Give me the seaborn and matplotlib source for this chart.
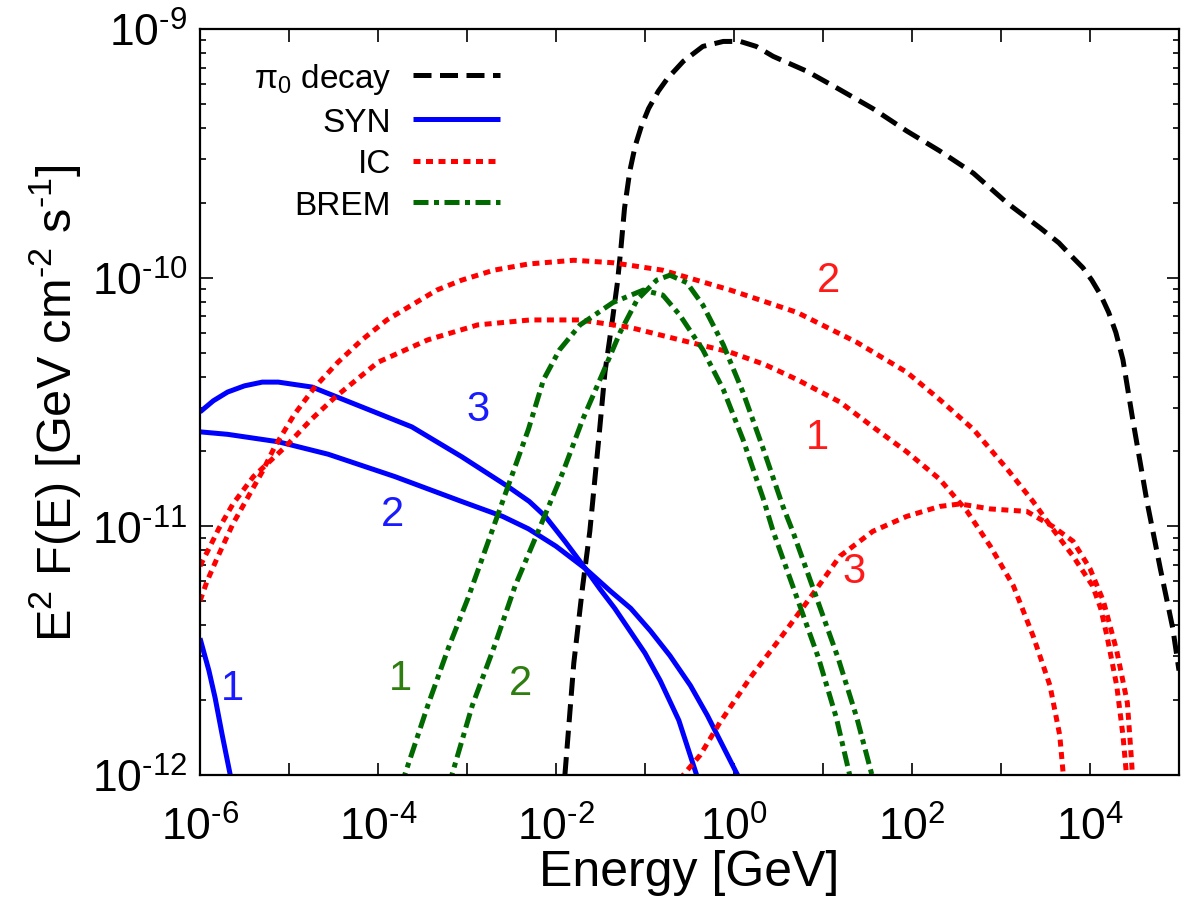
import numpy as np
import matplotlib
matplotlib.use("Agg")
import matplotlib.pyplot as plt
import seaborn as sns
from matplotlib.ticker import FixedLocator, FuncFormatter, LogLocator, NullFormatter, NullLocator

# ---------------- data (log10 E [GeV], log10 E^2F [GeV cm^-2 s^-1]) ----------------
pi0_logE = [-1.90, -1.80, -1.70, -1.62, -1.52, -1.45, -1.37, -1.31, -1.27, -1.23, -1.17, -1.11, -1.04, -0.96,
            -0.85, -0.75, -0.57, -0.35, -0.12, 0.07, 0.25, 0.44, 0.82, 1.17, 1.56, 1.94, 2.31, 2.69, 3.07,
            3.44, 3.65, 3.81, 3.92, 4.02, 4.12, 4.21, 4.29, 4.37, 4.48, 4.64, 4.79, 4.93, 5.00]
pi0_logF = [-12.0, -11.55, -11.24, -11.02, -10.65, -10.38, -10.18, -10.02, -9.88, -9.72, -9.57, -9.47, -9.39, -9.32,
            -9.25, -9.20, -9.13, -9.07, -9.05, -9.05, -9.07, -9.11, -9.17, -9.24, -9.32, -9.41, -9.49, -9.58, -9.70,
            -9.80, -9.86, -9.92, -9.96, -10.01, -10.07, -10.14, -10.22, -10.33, -10.57, -10.90, -11.17, -11.41, -11.58]

syn1_logE = [-6.00, -5.90, -5.83, -5.75, -5.66, -5.64]
syn1_logF = [-11.45, -11.58, -11.69, -11.84, -12.00, -12.05]

syn2_logE = [-6.00, -5.69, -5.12, -4.56, -3.81, -3.06, -2.60, -2.31, -2.00, -1.67, -1.39, -1.16, -0.94, -0.72,
             -0.49, -0.30, -0.13, 0.04, 0.07]
syn2_logF = [-10.62, -10.63, -10.66, -10.71, -10.80, -10.90, -10.96, -11.01, -11.08, -11.17, -11.26, -11.33, -11.42, -11.52,
             -11.64, -11.76, -11.88, -12.00, -12.03]

syn3_logE = [-6.00, -5.85, -5.69, -5.50, -5.30, -5.12, -4.74, -4.18, -3.62, -3.06, -2.54, -2.30, -2.12, -1.90,
             -1.67, -1.51, -1.34, -1.17, -1.00, -0.83, -0.62, -0.42, -0.39]
syn3_logF = [-10.54, -10.495, -10.46, -10.435, -10.42, -10.42, -10.44, -10.52, -10.60, -10.72, -10.84, -10.90, -10.96, -11.06,
             -11.17, -11.25, -11.33, -11.42, -11.51, -11.62, -11.78, -12.00, -12.03]

ic1_logE = [-6.00, -5.90, -5.79, -5.63, -5.40, -5.04, -4.75, -4.48, -4.00, -3.44, -2.88, -2.29, -1.73, -1.17,
            -0.61, -0.04, 0.35, 0.71, 1.19, 1.56, 1.94, 2.31, 2.62, 2.88, 3.14, 3.36, 3.55, 3.66, 3.70, 3.71]
ic1_logF = [-11.16, -11.09, -11.01, -10.91, -10.80, -10.68, -10.57, -10.48, -10.34, -10.25, -10.19, -10.17, -10.17, -10.20,
            -10.25, -10.30, -10.35, -10.41, -10.50, -10.60, -10.70, -10.81, -10.94, -11.08, -11.24, -11.44, -11.64, -11.84, -12.00, -12.04]

ic2_logE = [-6.00, -5.92, -5.81, -5.63, -5.30, -5.16, -4.94, -4.71, -4.45, -4.18, -3.90, -3.62, -3.34, -3.06, -2.70,
            -2.31, -1.80, -1.36, -0.80, -0.04, 0.71, 1.38, 1.94, 2.31, 2.69, 3.07, 3.36, 3.58, 3.81, 4.03, 4.12,
            4.19, 4.30, 4.37, 4.41, 4.42]
ic2_logF = [-11.30, -11.22, -11.13, -10.99, -10.78, -10.68, -10.55, -10.44, -10.34, -10.25, -10.17, -10.11, -10.05, -10.01, -9.97,
            -9.945, -9.93, -9.94, -9.97, -10.05, -10.14, -10.26, -10.38, -10.49, -10.61, -10.77, -10.90, -11.01, -11.12, -11.24, -11.33,
            -11.44, -11.64, -11.84, -12.00, -12.04]

ic3_logE = [-0.60, -0.57, -0.38, -0.16, 0.18, 0.52, 0.85, 1.19, 1.56, 1.94, 2.31, 2.54, 2.88, 3.29, 3.58,
            3.81, 4.00, 4.15, 4.30, 4.42, 4.47, 4.48]
ic3_logF = [-12.02, -12.00, -11.92, -11.79, -11.61, -11.45, -11.29, -11.12, -11.02, -10.96, -10.92, -10.91, -10.93, -10.94, -11.00,
            -11.06, -11.17, -11.30, -11.50, -11.71, -11.96, -12.03]

brem1_logE = [-3.72, -3.70, -3.44, -3.21, -2.99, -2.76, -2.54, -2.31, -2.14, -1.96, -1.73, -1.36, -1.02, -0.80,
              -0.61, -0.35, -0.12, 0.10, 0.33, 0.44, 0.70, 0.95, 1.15, 1.30, 1.31]
brem1_logF = [-12.05, -12.00, -11.72, -11.49, -11.29, -11.06, -10.84, -10.61, -10.41, -10.29, -10.19, -10.10, -10.05, -10.07,
              -10.15, -10.29, -10.45, -10.65, -10.89, -11.02, -11.28, -11.53, -11.77, -12.00, -12.03]

brem2_logE = [-3.19, -3.17, -2.94, -2.69, -2.46, -2.20, -1.92, -1.70, -1.47, -1.28, -1.09, -0.87, -0.72, -0.53,
              -0.35, -0.12, 0.10, 0.33, 0.55, 0.66, 0.92, 1.17, 1.38, 1.55, 1.56]
brem2_logF = [-12.05, -12.00, -11.72, -11.48, -11.24, -11.02, -10.78, -10.57, -10.38, -10.22, -10.09, -10.01, -9.99, -10.02,
              -10.11, -10.27, -10.46, -10.69, -10.92, -11.02, -11.28, -11.53, -11.77, -12.00, -12.03]

legend_labels = [r"π$_0$ decay", "SYN", "IC", "BREM"]
xtick_exponents = [-6, -4, -2, 0, 2, 4]
ytick_exponents = [-12, -11, -10, -9]

# curve number labels: (text, log10 E, log10 F, colour)
curve_labels = [
    ("1", -5.64, -11.65, "#1a1aff"), ("2", -3.84, -10.95, "#1a1aff"), ("3", -2.88, -10.53, "#1a1aff"),
    ("2", 1.06, -10.01, "#ff1a1a"), ("1", 0.94, -10.64, "#ff1a1a"), ("3", 1.35, -11.18, "#ff1a1a"),
    ("1", -3.75, -11.61, "#2e7d10"), ("2", -2.40, -11.63, "#2e7d10"),
]

# ---------------- style ----------------
sns.set_style("ticks")
plt.rcParams['font.family'] = ['Liberation Sans', 'DejaVu Sans']
plt.rcParams['mathtext.fontset'] = 'custom'
plt.rcParams['mathtext.rm'] = 'Liberation Sans'
plt.rcParams['mathtext.it'] = 'Liberation Sans:italic'
plt.rcParams['mathtext.bf'] = 'Liberation Sans:bold'
plt.rcParams['mathtext.default'] = 'regular'
for k in ['text.color', 'axes.labelcolor', 'xtick.color', 'ytick.color', 'axes.edgecolor']:
    plt.rcParams[k] = 'black'

BLACK, BLUE, RED, GREEN = "#000000", "#0000ff", "#ff0000", "#006a00"
LW = 3.6
styles = {
    "pi0": dict(color=BLACK, linestyle=(0, (3.6, 1.7))),
    "syn": dict(color=BLUE, linestyle="-"),
    "ic": dict(color=RED, linestyle=(0, (1.4, 1.1))),
    "brem": dict(color=GREEN, linestyle=(0, (3.0, 1.1, 1.0, 1.1))),
}

fig = plt.figure(figsize=(11.95, 9.03), dpi=100)
ax = fig.add_axes([200 / 1195, 1 - 776 / 903, 979 / 1195, 746 / 903])
ax.set_xscale("log")
ax.set_yscale("log")

series = [
    ("pi0", pi0_logE, pi0_logF),
    ("syn", syn1_logE, syn1_logF), ("syn", syn2_logE, syn2_logF), ("syn", syn3_logE, syn3_logF),
    ("ic", ic1_logE, ic1_logF), ("ic", ic2_logE, ic2_logF), ("ic", ic3_logE, ic3_logF),
    ("brem", brem1_logE, brem1_logF), ("brem", brem2_logE, brem2_logF),
]
handles = {}
for key, lx, ly in series:
    sns.lineplot(x=10 ** np.asarray(lx), y=10 ** np.asarray(ly), ax=ax, estimator=None, sort=False,
                 legend=False, lw=LW, solid_capstyle="butt", dash_capstyle="butt", **styles[key])
    handles.setdefault(key, ax.lines[-1])

for txt, lx, ly, col in curve_labels:
    ax.text(10 ** lx, 10 ** ly, txt, color=col, fontsize=30, ha="center", va="center")

ax.set_xlim(1e-6, 1e5)
ax.set_ylim(1e-12, 1e-9)


def sci(e):
    return r"$10^{\text{-}%d}$" % (-e) if e < 0 else r"$10^{%d}$" % e


ax.xaxis.set_major_locator(FixedLocator([10.0 ** e for e in range(-6, 6)]))
ax.xaxis.set_minor_locator(NullLocator())
ax.xaxis.set_major_formatter(FuncFormatter(
    lambda v, p: sci(round(np.log10(v))) if round(np.log10(v)) in xtick_exponents else ""))
ax.yaxis.set_major_locator(FixedLocator([10.0 ** e for e in ytick_exponents]))
ax.yaxis.set_minor_locator(LogLocator(base=10, subs=np.arange(2, 10)))
ax.yaxis.set_minor_formatter(NullFormatter())
ax.yaxis.set_major_formatter(FuncFormatter(lambda v, p: sci(round(np.log10(v)))))

ax.tick_params(which="both", direction="in", top=True, right=True, width=1.2, colors="black")
ax.tick_params(which="major", length=9, labelsize=32)
ax.tick_params(axis="x", which="major", pad=22)
ax.tick_params(axis="y", which="major", pad=9)
ax.tick_params(which="minor", length=4)
for s in ax.spines.values():
    s.set_linewidth(1.6)
    s.set_color("black")

ax.set_xlabel("Energy [GeV]", fontsize=36, labelpad=0)
ax.set_ylabel(r"E$^2$ F(E) [GeV cm$^{\text{-}2}$ s$^{\text{-}1}$]", fontsize=35, labelpad=6)

leg = ax.legend([handles[k] for k in ["pi0", "syn", "ic", "brem"]], legend_labels,
                loc="upper right", bbox_to_anchor=(0.306, 0.957), markerfirst=False, frameon=False,
                fontsize=24, handlelength=2.6, handletextpad=0.65, labelspacing=0.32,
                borderpad=0, borderaxespad=0)

fig.savefig("out.png", dpi=100)
